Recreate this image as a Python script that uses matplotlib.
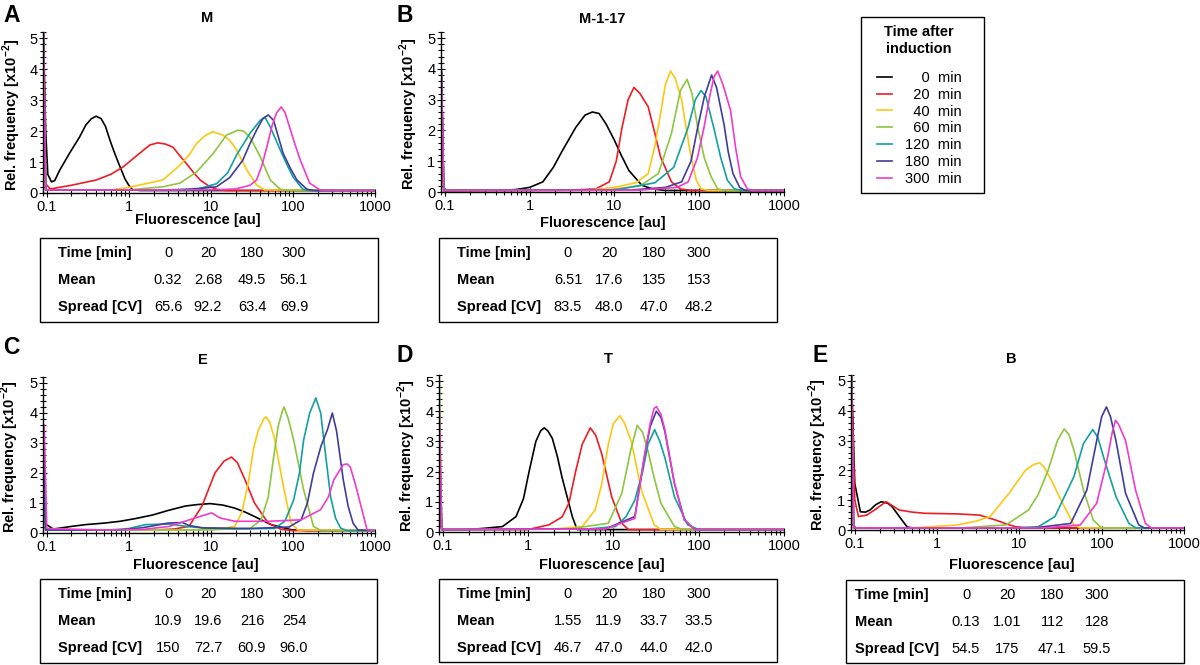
import matplotlib
matplotlib.use('Agg')
import matplotlib.pyplot as plt
from matplotlib.ticker import LogLocator, MultipleLocator, NullFormatter
from matplotlib.patches import Rectangle

plt.rcParams['font.family'] = ['Liberation Sans', 'DejaVu Sans']
plt.rcParams['mathtext.fontset'] = 'custom'
plt.rcParams['mathtext.rm'] = 'Liberation Sans'
plt.rcParams['mathtext.bf'] = 'Liberation Sans:bold'

# ---------------- data ----------------
times = [0, 20, 40, 60, 120, 180, 300]
colors = ['#000000', '#ee1c25', '#fcc812', '#8dc63f', '#14a0a0', '#3f3d99', '#f03cc9']
x_ticks = [0.1, 1, 10, 100, 1000]
x_ticklabels = ['0.1', '1', '10', '100', '1000']
y_ticks = [0, 1, 2, 3, 4, 5]

# Panel A: M   (fluorescence [au], rel. frequency [x10^-2])
M_t0 = [(0.091, 5.2), (0.097, 2.0), (0.103, 0.6), (0.114, 0.36), (0.125, 0.4), (0.144, 0.74), (0.19, 1.29), (0.25, 1.8), (0.3, 2.2), (0.35, 2.4), (0.4, 2.48), (0.46, 2.4), (0.52, 2.15), (0.59, 1.7), (0.68, 1.25), (0.78, 0.85), (0.9, 0.45), (1.0, 0.25), (1.12, 0.1), (1.4, 0.08), (1000, 0.08)]
M_t20 = [(0.091, 5.2), (0.097, 0.3), (0.11, 0.13), (0.2, 0.25), (0.4, 0.42), (0.6, 0.6), (0.85, 0.84), (1.35, 1.28), (1.8, 1.55), (2.26, 1.62), (2.8, 1.58), (3.45, 1.48), (4.2, 1.2), (5, 0.96), (6.2, 0.65), (7.4, 0.42), (9.5, 0.22), (11.7, 0.12), (15, 0.08), (1000, 0.08)]
M_t40 = [(0.091, 5.2), (0.097, 0.1), (0.6, 0.1), (1.0, 0.18), (1.6, 0.3), (2.6, 0.42), (4.2, 0.9), (5.5, 1.25), (6.7, 1.6), (8.5, 1.85), (10.5, 1.98), (14, 1.87), (17, 1.7), (20.6, 1.39), (27.5, 0.74), (36, 0.26), (45, 0.1), (1000, 0.08)]
M_t60 = [(0.091, 5.2), (0.097, 0.1), (1.0, 0.1), (2.6, 0.2), (4.2, 0.32), (6.7, 0.68), (10.7, 1.28), (15.5, 1.87), (21.4, 2.03), (25, 2.0), (30, 1.8), (40, 1.17), (53, 0.42), (70, 0.12), (90, 0.08), (1000, 0.08)]
M_t120 = [(0.091, 5.2), (0.097, 0.1), (3, 0.1), (7.4, 0.15), (11.7, 0.3), (16, 0.65), (20.6, 1.23), (30, 1.93), (40, 2.35), (45.5, 2.45), (53, 2.13), (70, 1.39), (85, 0.9), (100, 0.52), (132, 0.12), (170, 0.08), (1000, 0.08)]
M_t180 = [(0.091, 5.2), (0.097, 0.1), (5, 0.1), (11.7, 0.2), (17, 0.5), (24.5, 1.06), (30, 1.6), (36, 2.03), (43, 2.4), (50, 2.52), (58, 2.35), (76, 1.28), (95, 0.75), (112, 0.42), (148, 0.12), (180, 0.08), (1000, 0.08)]
M_t300 = [(0.091, 5.2), (0.097, 0.1), (10, 0.1), (20, 0.13), (30, 0.25), (36, 0.42), (42, 0.9), (48, 1.48), (56, 2.2), (63, 2.58), (72, 2.78), (80, 2.6), (91, 2.13), (105, 1.6), (123, 1.06), (160, 0.32), (214, 0.1), (260, 0.08), (1000, 0.08)]

# Panel B: M-1-17
M117_t0 = [(0.091, 3.9), (0.097, 0.05), (0.5, 0.06), (0.69, 0.08), (1.0, 0.15), (1.43, 0.33), (1.9, 0.8), (2.45, 1.36), (3.5, 2.1), (4.5, 2.5), (5.5, 2.6), (6.6, 2.55), (8, 2.2), (10, 1.68), (12, 1.2), (14.8, 0.7), (21, 0.22), (28, 0.1), (40, 0.05), (1000, 0.05)]
M117_t20 = [(0.091, 3.9), (0.097, 0.05), (3, 0.06), (6, 0.1), (8.7, 0.33), (10.5, 1.0), (12.3, 2.1), (14.5, 3.0), (17, 3.4), (20, 3.2), (25, 2.77), (30, 1.9), (35, 1.14), (47, 0.33), (60, 0.1), (80, 0.05), (1000, 0.05)]
M117_t40 = [(0.091, 3.9), (0.097, 0.05), (5, 0.06), (10, 0.15), (18, 0.3), (25, 0.6), (30, 1.5), (35, 2.55), (40, 3.5), (46, 3.93), (52, 3.7), (62, 3.0), (70, 2.1), (80, 1.14), (92, 0.4), (105, 0.1), (130, 0.05), (1000, 0.05)]
M117_t60 = [(0.091, 3.9), (0.097, 0.05), (8, 0.06), (20, 0.2), (33, 0.6), (47, 1.9), (60, 3.3), (72, 3.66), (82, 3.2), (96, 2.1), (115, 1.1), (138, 0.5), (165, 0.1), (200, 0.05), (1000, 0.05)]
M117_t120 = [(0.091, 3.9), (0.097, 0.05), (10, 0.06), (30, 0.3), (50, 0.8), (74, 2.1), (90, 3.0), (105, 3.3), (120, 3.1), (148, 2.1), (180, 1.1), (215, 0.38), (260, 0.1), (320, 0.05), (1000, 0.05)]
M117_t180 = [(0.091, 3.9), (0.097, 0.05), (15, 0.06), (40, 0.15), (62, 0.33), (80, 1.0), (96, 2.1), (115, 3.1), (140, 3.8), (160, 3.4), (196, 2.2), (220, 1.3), (250, 0.6), (300, 0.15), (350, 0.05), (1000, 0.05)]
M117_t300 = [(0.091, 3.95), (0.097, 0.05), (20, 0.06), (55, 0.15), (74, 0.33), (95, 1.1), (114, 2.1), (135, 3.2), (150, 3.75), (165, 3.93), (190, 3.5), (234, 2.66), (270, 1.4), (308, 0.5), (370, 0.1), (420, 0.05), (1000, 0.05)]

# Panel C: E
E_t0 = [(0.091, 1.0), (0.097, 0.3), (0.12, 0.13), (0.2, 0.22), (0.3, 0.28), (0.5, 0.33), (0.78, 0.39), (1.2, 0.48), (1.95, 0.6), (3, 0.75), (4.9, 0.9), (7, 0.95), (9.8, 0.98), (14, 0.93), (19.5, 0.83), (26, 0.7), (34, 0.55), (54, 0.28), (95, 0.11), (150, 0.08), (1000, 0.08)]
E_t20 = [(0.091, 1.0), (0.097, 0.1), (1.95, 0.1), (3.5, 0.13), (5.4, 0.22), (7.8, 0.9), (11.2, 2.0), (14.5, 2.4), (17.8, 2.53), (21, 2.35), (26, 1.78), (34, 1.0), (50, 0.33), (72, 0.12), (100, 0.08), (1000, 0.08)]
E_t40 = [(0.091, 1.0), (0.097, 0.1), (5, 0.1), (12, 0.12), (19.5, 0.22), (24, 0.7), (29, 1.78), (33, 2.8), (38, 3.44), (44, 3.8), (47, 3.87), (52, 3.7), (59, 3.2), (68, 2.3), (78, 1.44), (95, 0.33), (115, 0.1), (1000, 0.08)]
E_t60 = [(0.091, 1.0), (0.097, 0.1), (7.8, 0.1), (30, 0.15), (41, 0.44), (50, 1.2), (58, 2.5), (66, 3.55), (74, 4.05), (78, 4.2), (88, 3.8), (102, 3.1), (135, 1.44), (178, 0.22), (220, 0.08), (1000, 0.08)]
E_t120 = [(0.091, 2.0), (0.097, 0.1), (0.6, 0.1), (1.0, 0.15), (1.6, 0.28), (3.1, 0.3), (5, 0.22), (7.8, 0.17), (20, 0.14), (60, 0.15), (80, 0.4), (102, 1.1), (120, 2.0), (135, 3.1), (160, 4.0), (190, 4.5), (218, 4.0), (250, 2.6), (288, 1.2), (330, 0.5), (380, 0.17), (450, 0.08), (1000, 0.08)]
E_t180 = [(0.091, 3.0), (0.097, 0.1), (0.8, 0.1), (1.5, 0.18), (3, 0.33), (4.5, 0.35), (5.4, 0.25), (8, 0.17), (30, 0.15), (90, 0.2), (126, 0.44), (150, 1.0), (178, 2.0), (220, 2.9), (263, 3.44), (302, 4.0), (340, 3.4), (410, 1.78), (470, 0.9), (540, 0.33), (620, 0.1), (1000, 0.08)]
E_t300 = [(0.093, 3.6), (0.1, 0.15), (0.5, 0.1), (1.5, 0.12), (3.1, 0.22), (6.4, 0.5), (10.2, 0.67), (13, 0.5), (19.5, 0.39), (50, 0.39), (126, 0.44), (218, 0.78), (270, 1.2), (316, 1.78), (410, 2.28), (460, 2.3), (500, 2.2), (580, 1.6), (660, 1.0), (800, 0.11), (1000, 0.08)]

# Panel D: T
T_t0 = [(0.091, 1.0), (0.097, 0.08), (0.19, 0.08), (0.3, 0.12), (0.5, 0.18), (0.72, 0.51), (0.88, 1.1), (1.03, 2.03), (1.23, 3.0), (1.4, 3.35), (1.54, 3.45), (1.7, 3.35), (1.92, 3.1), (2.2, 2.5), (2.5, 1.8), (3.3, 0.5), (3.75, 0.08), (1000, 0.08)]
T_t20 = [(0.091, 1.5), (0.097, 0.08), (1.0, 0.08), (1.76, 0.24), (2.5, 0.5), (3.0, 0.95), (3.6, 2.0), (4.3, 2.9), (5.35, 3.45), (6.2, 3.2), (7.3, 2.58), (9.55, 1.16), (12.5, 0.29), (15, 0.08), (1000, 0.08)]
T_t40 = [(0.091, 2.0), (0.097, 0.08), (2, 0.1), (4.3, 0.18), (6.1, 0.73), (7.3, 1.6), (8.7, 2.9), (10, 3.6), (11.9, 3.85), (13.5, 3.6), (16.2, 3.0), (21.3, 1.38), (30, 0.24), (36, 0.08), (1000, 0.08)]
T_t60 = [(0.091, 5.1), (0.097, 0.08), (3, 0.1), (8.7, 0.29), (12.5, 1.27), (16.2, 2.8), (19, 3.53), (22, 3.3), (25.4, 2.68), (30, 1.8), (36, 0.95), (52, 0.18), (65, 0.08), (1000, 0.08)]
T_t120 = [(0.091, 2.3), (0.097, 0.08), (5, 0.1), (10.5, 0.18), (14, 0.5), (17.8, 1.05), (22, 2.0), (25.4, 2.9), (30.4, 3.39), (35, 3.0), (40, 2.47), (52, 1.16), (74, 0.24), (100, 0.08), (1000, 0.08)]
T_t180 = [(0.091, 3.0), (0.097, 0.08), (8, 0.1), (17.8, 0.51), (23, 2.47), (27, 3.5), (31.8, 4.0), (36, 3.8), (40, 3.34), (52, 1.6), (68, 0.4), (90, 0.08), (1000, 0.08)]
T_t300 = [(0.091, 4.0), (0.097, 0.08), (8, 0.1), (17.8, 0.45), (23, 2.5), (27, 3.6), (30, 4.1), (32, 4.15), (36, 3.9), (40, 3.4), (52, 1.6), (68, 0.4), (90, 0.08), (1000, 0.08)]

# Panel E: B
B_t0 = [(0.091, 5.2), (0.1, 1.56), (0.117, 0.61), (0.135, 0.6), (0.153, 0.67), (0.18, 0.85), (0.21, 0.95), (0.25, 0.9), (0.28, 0.8), (0.316, 0.61), (0.37, 0.35), (0.434, 0.1), (0.5, 0.07), (1000, 0.07)]
B_t20 = [(0.091, 5.2), (0.1, 1.0), (0.111, 0.45), (0.14, 0.5), (0.18, 0.7), (0.24, 0.95), (0.3, 0.78), (0.346, 0.67), (0.5, 0.6), (0.71, 0.56), (1.77, 0.54), (3.3, 0.5), (5.2, 0.33), (7, 0.2), (9, 0.11), (12, 0.07), (1000, 0.07)]
B_t40 = [(0.091, 5.2), (0.097, 0.07), (0.5, 0.07), (1.77, 0.17), (3, 0.3), (4.4, 0.45), (7.5, 1.23), (11.8, 2.0), (15, 2.2), (17.8, 2.25), (20, 2.1), (24.5, 1.67), (32, 1.0), (46, 0.17), (55, 0.07), (1000, 0.07)]
B_t60 = [(0.091, 5.2), (0.097, 0.07), (2, 0.07), (6.9, 0.17), (12.9, 0.67), (17, 1.2), (22.3, 2.0), (29, 3.0), (35, 3.39), (40, 3.2), (46, 2.68), (60, 1.34), (79, 0.33), (100, 0.07), (1000, 0.07)]
B_t120 = [(0.091, 5.2), (0.097, 0.07), (8, 0.07), (17, 0.11), (27, 0.45), (46, 1.79), (60, 2.9), (78, 3.37), (90, 3.1), (105, 2.46), (149, 1.12), (214, 0.22), (260, 0.07), (1000, 0.07)]
B_t180 = [(0.091, 5.2), (0.097, 0.07), (15, 0.07), (42, 0.22), (66, 1.34), (87, 3.0), (100, 3.8), (114, 4.13), (128, 3.8), (149, 3.0), (195, 1.23), (282, 0.17), (330, 0.07), (1000, 0.07)]
B_t300 = [(0.091, 5.2), (0.097, 0.07), (20, 0.07), (55, 0.17), (87, 0.9), (114, 2.23), (135, 3.3), (147, 3.68), (160, 3.55), (195, 3.0), (258, 1.34), (340, 0.22), (400, 0.07), (1000, 0.07)]

# Summary tables
table_times = [0, 20, 180, 300]
M_mean = ['0.32', '2.68', '49.5', '56.1']
M_cv = ['65.6', '92.2', '63.4', '69.9']
M117_mean = ['6.51', '17.6', '135', '153']
M117_cv = ['83.5', '48.0', '47.0', '48.2']
E_mean = ['10.9', '19.6', '216', '254']
E_cv = ['150', '72.7', '60.9', '96.0']
T_mean = ['1.55', '11.9', '33.7', '33.5']
T_cv = ['46.7', '47.0', '44.0', '42.0']
B_mean = ['0.13', '1.01', '112', '128']
B_cv = ['54.5', '175', '47.1', '59.5']

# ---------------- layout ----------------
W, H = 1200, 665
FS = 10.5
fig = plt.figure(figsize=(12, 6.65), dpi=100)


def fx(x):
    return x / W


def fy(y):
    return 1 - y / H


panels = [
    dict(letter='A', title='M', curves=[M_t0, M_t20, M_t40, M_t60, M_t120, M_t180, M_t300],
         mean=M_mean, cv=M_cv, box=(43, 32, 375, 193), letter_xy=(3, 15), title_xy=(207, 18),
         ylab_x=12, xlab_xy=(198, 220), table=(40, 238, 378, 322), tlab_x=58,
         tcols=(168, 208, 252, 294)),
    dict(letter='B', title='M-1-17', curves=[M117_t0, M117_t20, M117_t40, M117_t60, M117_t120, M117_t180, M117_t300],
         mean=M117_mean, cv=M117_cv, box=(441, 32, 784, 192), letter_xy=(397, 15), title_xy=(602, 19),
         ylab_x=409, xlab_xy=(603, 223), table=(439, 238, 777, 322), tlab_x=457,
         tcols=(568, 609, 654, 699)),
    dict(letter='C', title='E', curves=[E_t0, E_t20, E_t40, E_t60, E_t120, E_t180, E_t300],
         mean=E_mean, cv=E_cv, box=(43, 377, 375, 533), letter_xy=(3, 347), title_xy=(203, 360),
         ylab_x=10, xlab_xy=(196, 565), table=(40, 579, 377, 663), tlab_x=58,
         tcols=(168, 208, 252, 294)),
    dict(letter='D', title='T', curves=[T_t0, T_t20, T_t40, T_t60, T_t120, T_t180, T_t300],
         mean=T_mean, cv=T_cv, box=(439, 375, 784, 532), letter_xy=(397, 355), title_xy=(608, 359),
         ylab_x=407, xlab_xy=(602, 565), table=(439, 579, 777, 662), tlab_x=457,
         tcols=(568, 609, 654, 699)),
    dict(letter='E', title='B', curves=[B_t0, B_t20, B_t40, B_t60, B_t120, B_t180, B_t300],
         mean=B_mean, cv=B_cv, box=(851, 375, 1184, 530), letter_xy=(812, 355), title_xy=(1011, 359),
         ylab_x=818, xlab_xy=(1012, 565), table=(846, 580, 1184, 663), tlab_x=855,
         tcols=(966, 1007, 1052, 1097)),
]

legend_handles = None
for p in panels:
    l, t, r, b = p['box']
    ax = fig.add_axes([fx(l), fy(b), (r - l) / W, (b - t) / H])
    ax.patch.set_alpha(0)
    handles = []
    for pts, c in zip(p['curves'], colors):
        xs = [q[0] for q in pts]
        ys = [q[1] for q in pts]
        ln, = ax.plot(xs, ys, color=c, lw=1.2, solid_joinstyle='round')
        handles.append(ln)
    if legend_handles is None:
        legend_handles = handles
    ax.set_xscale('log')
    ax.set_xlim(0.09, 1000)
    ax.set_ylim(0, 5.2)
    for s in ('top', 'right'):
        ax.spines[s].set_visible(False)
    for s in ('left', 'bottom'):
        ax.spines[s].set_linewidth(1.0)
    ax.set_xticks(x_ticks)
    ax.set_xticklabels(x_ticklabels)
    ax.xaxis.set_minor_locator(LogLocator(base=10, subs=range(2, 10)))
    ax.xaxis.set_minor_formatter(NullFormatter())
    ax.set_yticks(y_ticks)
    ax.yaxis.set_minor_locator(MultipleLocator(0.2))
    ax.tick_params(which='both', direction='inout', width=0.8, labelsize=FS, colors='black')
    ax.tick_params(which='major', length=6)
    ax.tick_params(which='minor', length=4)
    ax.tick_params(axis='y', pad=1)
    ax.tick_params(axis='x', pad=2)

    # texts
    lx, ly = p['letter_xy']
    fig.text(fx(lx), fy(ly), p['letter'], ha='left', va='center', fontsize=16.5, fontweight='bold')
    tx, ty = p['title_xy']
    fig.text(fx(tx), fy(ty), p['title'], ha='center', va='center', fontsize=FS, fontweight='bold')
    fig.text(fx(p['ylab_x']), fy((t + b) / 2 + 2), r'Rel. frequency [x10$^{\mathbf{-2}}$]',
             rotation=90, ha='center', va='center', fontsize=FS, fontweight='bold')
    xx, xy = p['xlab_xy']
    fig.text(fx(xx), fy(xy), 'Fluorescence [au]', ha='center', va='center', fontsize=FS, fontweight='bold')

    # table
    tl, tt, tr, tb = p['table']
    fig.add_artist(Rectangle((fx(tl), fy(tb)), (tr - tl) / W, (tb - tt) / H,
                             transform=fig.transFigure, fill=False, ec='black', lw=1.0))
    rows_y = [tt + 15, tt + 42, tt + 69]
    row_labels = ['Time [min]', 'Mean', 'Spread [CV]']
    row_vals = [[str(v) for v in table_times], p['mean'], p['cv']]
    for ry, lab, vals in zip(rows_y, row_labels, row_vals):
        fig.text(fx(p['tlab_x']), fy(ry), lab, ha='left', va='center', fontsize=FS, fontweight='bold')
        for cx, v in zip(p['tcols'], vals):
            fig.text(fx(cx), fy(ry), v, ha='center', va='center', fontsize=FS)

# legend
fig.add_artist(Rectangle((fx(861), fy(193)), (984 - 861) / W, (193 - 17) / H,
                         transform=fig.transFigure, fill=False, ec='black', lw=1.0))
fig.text(fx(919), fy(32), 'Time after', ha='center', va='center', fontsize=FS, fontweight='bold')
fig.text(fx(919), fy(49), 'induction', ha='center', va='center', fontsize=FS, fontweight='bold')
legend_labels = [' ' * (2 * (3 - len(str(t)))) + str(t) + '  min' for t in times]
leg = fig.legend(legend_handles, legend_labels, loc='upper left', bbox_to_anchor=(fx(877), fy(71)),
                 borderaxespad=0, borderpad=0, frameon=False, fontsize=FS,
                 handlelength=1.0, handletextpad=0.9, labelspacing=0.19)

fig.savefig('out.png', dpi=100)
